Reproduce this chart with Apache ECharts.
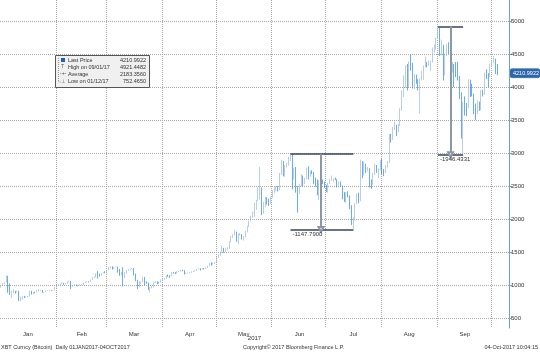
<!DOCTYPE html>
<html>
<head>
<meta charset="utf-8">
<script src="https://cdn.jsdelivr.net/npm/echarts@6/dist/echarts.min.js"></script>
<style>
html, body { margin: 0; padding: 0; background: #fff; }
#chart { width: 540px; height: 352px; }
</style>
</head>
<body>
<div id="chart"></div>
<script>
// daily candles, each row is [open, close, low, high]
var jan = [
  [963.7, 998.3, 958.7, 1003.1], [998.3, 1021.8, 990.0, 1031.4], [1021.8, 1043.8, 1015.2, 1044.1],
  [1043.8, 1135.0, 1040.0, 1148.0], [1135.0, 1005.0, 885.0, 1140.0], [1005.0, 895.0, 850.0, 1028.0],
  [895.0, 906.0, 806.0, 912.0], [906.0, 910.0, 880.0, 938.0], [910.0, 900.0, 870.0, 913.0],
  [900.0, 905.0, 890.0, 910.0], [905.0, 785.0, 760.0, 915.0], [785.0, 812.0, 752.465, 827.0],
  [812.0, 826.0, 778.0, 835.0], [826.0, 818.0, 805.0, 837.0], [818.0, 822.0, 812.0, 826.0],
  [822.0, 831.0, 818.0, 835.0], [831.0, 907.0, 828.0, 910.0], [907.0, 869.0, 858.0, 913.0],
  [869.0, 894.0, 865.0, 900.0], [894.0, 893.0, 880.0, 899.0], [893.0, 921.0, 890.0, 926.0],
  [921.0, 923.0, 900.0, 935.0], [923.0, 925.0, 915.0, 929.0], [925.0, 892.0, 885.0, 927.0],
  [892.0, 894.0, 884.0, 898.0], [894.0, 916.0, 892.0, 918.0], [916.0, 918.0, 911.0, 923.0],
  [918.0, 917.0, 913.0, 921.0], [917.0, 914.0, 909.0, 919.0], [914.0, 921.0, 912.0, 924.0],
  [921.0, 968.0, 919.0, 972.0]
];
var feb = [
  [968, 989, 963, 990], [989, 1011, 985, 1012], [1011, 1021, 1005, 1025], [1021, 1033, 1015, 1040],
  [1033, 1015, 1005, 1035], [1015, 1025, 1010, 1030], [1025, 1051, 1022, 1053], [1051, 1061, 1040, 1068],
  [1061, 979, 940, 1065], [979, 996, 975, 1003], [996, 1009, 992, 1012], [1009, 998, 994, 1010],
  [998, 999, 980, 1005], [999, 1008, 995, 1014], [1008, 1007, 1002, 1011], [1007, 1030, 1005, 1035],
  [1030, 1049, 1028, 1053], [1049, 1055, 1045, 1060], [1055, 1052, 1040, 1058], [1052, 1081, 1048, 1085],
  [1081, 1117, 1078, 1120], [1117, 1123, 1105, 1128], [1123, 1174, 1120, 1178], [1174, 1172, 1100, 1212],
  [1172, 1150, 1130, 1175], [1150, 1182, 1140, 1185], [1182, 1194, 1176, 1197], [1194, 1189, 1180, 1210]
];
var mar = [
  [1189, 1222, 1185, 1225], [1222, 1259, 1220, 1275], [1259, 1283, 1250, 1290], [1283, 1265, 1235, 1285],
  [1265, 1272, 1245, 1275], [1272, 1276, 1265, 1280], [1276, 1233, 1190, 1280], [1233, 1150, 1140, 1245],
  [1150, 1189, 1145, 1200], [1189, 1116, 980, 1270], [1116, 1176, 1110, 1195], [1176, 1226, 1170, 1230],
  [1226, 1239, 1215, 1245], [1239, 1244, 1225, 1250], [1244, 1254, 1240, 1258], [1254, 1172, 1150, 1258],
  [1172, 1071, 1060, 1175], [1071, 970, 940, 1080], [970, 1022, 965, 1060], [1022, 1047, 1015, 1055],
  [1047, 1120, 1045, 1125], [1120, 1049, 1000, 1122], [1049, 1038, 1020, 1055], [1038, 937, 925, 1040],
  [937, 966, 890, 975], [966, 966, 950, 990], [966, 1045, 965, 1050], [1045, 1045, 1030, 1060],
  [1045, 1041, 1015, 1055], [1041, 1037, 1025, 1050], [1037, 1079, 1035, 1085]
];
var apr = [
  [1079, 1086, 1070, 1095], [1086, 1097, 1080, 1108], [1097, 1144, 1095, 1150], [1144, 1142, 1125, 1160],
  [1142, 1132, 1110, 1150], [1132, 1194, 1130, 1197], [1194, 1190, 1175, 1200], [1190, 1182, 1170, 1198],
  [1182, 1203, 1175, 1210], [1203, 1208, 1196, 1212], [1208, 1226, 1205, 1229], [1226, 1218, 1210, 1232],
  [1218, 1176, 1160, 1225], [1176, 1181, 1168, 1190], [1181, 1185, 1175, 1190], [1185, 1187, 1180, 1195],
  [1187, 1206, 1183, 1210], [1206, 1210, 1200, 1215], [1210, 1219, 1205, 1225], [1219, 1240, 1215, 1245],
  [1240, 1250, 1235, 1255], [1250, 1243, 1220, 1255], [1243, 1252, 1240, 1260], [1252, 1248, 1238, 1258],
  [1248, 1263, 1245, 1267], [1263, 1287, 1260, 1295], [1287, 1334, 1285, 1338], [1334, 1318, 1295, 1345],
  [1318, 1328, 1310, 1340], [1328, 1347, 1320, 1352]
];
var may = [
  [1347, 1420, 1345, 1425], [1420, 1453, 1410, 1470], [1453, 1491, 1440, 1495], [1491, 1537, 1490, 1600],
  [1537, 1508, 1490, 1565], [1508, 1545, 1505, 1560], [1545, 1555, 1530, 1575], [1555, 1660, 1550, 1665],
  [1660, 1725, 1650, 1745], [1725, 1760, 1710, 1770], [1760, 1808, 1750, 1840], [1808, 1680, 1655, 1810],
  [1680, 1771, 1620, 1780], [1771, 1771, 1750, 1790], [1771, 1700, 1690, 1775], [1700, 1730, 1675, 1745],
  [1730, 1807, 1725, 1820], [1807, 1889, 1800, 1900], [1889, 1969, 1880, 1975], [1969, 2042, 1965, 2050],
  [2042, 2047, 2020, 2115], [2047, 2147, 2030, 2250], [2147, 2279, 2140, 2290], [2279, 2443, 2275, 2480],
  [2443, 2460, 2300, 2790], [2460, 2150, 2060, 2480], [2150, 2200, 2080, 2260], [2200, 2300, 2180, 2340],
  [2300, 2270, 2220, 2330], [2270, 2240, 2200, 2310], [2240, 2330, 2230, 2340]
];
var jun = [
  [2330, 2410, 2320, 2440], [2410, 2450, 2395, 2480], [2450, 2470, 2430, 2500], [2470, 2440, 2420, 2500],
  [2440, 2680, 2435, 2700], [2680, 2870, 2670, 2900], [2870, 2700, 2650, 2880], [2700, 2800, 2640, 2820],
  [2800, 2820, 2780, 2850], [2820, 2920, 2810, 2945], [2920, 2975, 2880, 2990], [2975, 2650, 2450, 2985],
  [2650, 2710, 2600, 2780], [2710, 2480, 2400, 2790], [2480, 2440, 2100, 2500], [2440, 2510, 2380, 2535],
  [2510, 2650, 2490, 2680], [2650, 2540, 2500, 2660], [2540, 2610, 2530, 2625], [2610, 2760, 2600, 2780],
  [2760, 2690, 2600, 2800], [2690, 2715, 2640, 2730], [2715, 2710, 2680, 2740], [2710, 2580, 2530, 2715],
  [2580, 2560, 2490, 2630], [2560, 2425, 2360, 2600], [2425, 2580, 2290, 2590], [2580, 2590, 2510, 2610],
  [2590, 2550, 2530, 2600], [2550, 2490, 2470, 2570]
];
var jul = [
  [2490, 2430, 2410, 2520], [2430, 2540, 2400, 2550], [2540, 2590, 2530, 2610], [2590, 2600, 2580, 2660],
  [2600, 2610, 2560, 2620], [2610, 2600, 2590, 2630], [2600, 2500, 2480, 2605], [2500, 2560, 2480, 2570],
  [2560, 2500, 2490, 2570], [2500, 2330, 2300, 2510], [2330, 2310, 2260, 2410], [2310, 2390, 2250, 2410],
  [2390, 2350, 2330, 2420], [2350, 2200, 2150, 2360], [2200, 1930, 1910, 2210], [1930, 1990, 1842.21, 2030],
  [1990, 2235, 1975, 2240], [2235, 2320, 2230, 2390], [2320, 2290, 2240, 2400], [2290, 2870, 2270, 2900],
  [2870, 2670, 2620, 2880], [2670, 2830, 2660, 2870], [2830, 2760, 2700, 2840], [2760, 2760, 2720, 2790],
  [2760, 2570, 2480, 2770], [2570, 2530, 2460, 2600], [2530, 2680, 2520, 2700], [2680, 2810, 2670, 2840],
  [2810, 2730, 2700, 2820], [2730, 2760, 2620, 2770], [2760, 2880, 2740, 2890]
];
var aug = [
  [2880, 2730, 2680, 2920], [2730, 2710, 2650, 2760], [2710, 2810, 2700, 2820], [2810, 2860, 2780, 2880],
  [2860, 3260, 2850, 3290], [3260, 3220, 3160, 3290], [3220, 3380, 3200, 3400], [3380, 3420, 3350, 3480],
  [3420, 3340, 3260, 3430], [3340, 3420, 3320, 3440], [3420, 3650, 3410, 3680], [3650, 3860, 3640, 3950],
  [3860, 4060, 3850, 4180], [4060, 4320, 3990, 4330], [4320, 4160, 3950, 4350], [4160, 4380, 4000, 4390],
  [4380, 4290, 4250, 4490], [4290, 4100, 3980, 4370], [4100, 4190, 3970, 4200], [4190, 4080, 4050, 4190],
  [4080, 4000, 3950, 4120], [4000, 4110, 3600, 4130], [4110, 4140, 4100, 4250], [4140, 4320, 4110, 4330],
  [4320, 4370, 4300, 4460], [4370, 4350, 4300, 4380], [4350, 4350, 4320, 4400], [4350, 4390, 4240, 4400],
  [4390, 4580, 4370, 4600], [4580, 4580, 4520, 4640], [4580, 4740, 4570, 4750]
];
var sep = [
  [4740, 4890, 4730, 4921.4482], [4890, 4580, 4470, 4900], [4580, 4640, 4480, 4720], [4640, 4350, 4100, 4640],
  [4350, 4480, 4180, 4510], [4480, 4620, 4470, 4650], [4620, 4600, 4500, 4680], [4600, 4310, 4170, 4640],
  [4310, 4350, 4220, 4380], [4350, 4290, 4000, 4350], [4290, 4230, 4150, 4380], [4230, 4160, 4100, 4380],
  [4160, 3880, 3820, 4170], [3880, 3240, 3220, 3920], [3240, 3700, 2975.0151, 3780], [3700, 3690, 3570, 3860],
  [3690, 3680, 3560, 3760], [3680, 4090, 3680, 4120], [4090, 3910, 3850, 4110], [3910, 3890, 3860, 4050],
  [3890, 3610, 3590, 3900], [3610, 3600, 3500, 3750], [3600, 3780, 3590, 3800], [3780, 3660, 3640, 3780],
  [3660, 3920, 3650, 3960], [3920, 3890, 3860, 3960], [3890, 4200, 3880, 4220], [4200, 4180, 4120, 4270],
  [4180, 4160, 4000, 4210], [4160, 4340, 4150, 4360]
];
var oct = [
  [4340, 4400, 4300, 4410], [4400, 4410, 4370, 4470], [4410, 4320, 4200, 4430], [4320, 4210.9922, 4180, 4350]
];

var monthLabels = ['Jan', 'Feb', 'Mar', 'Apr', 'May', 'Jun', 'Jul', 'Aug', 'Sep'];

// summary box values as printed on the chart
var lastPrice = '4210.9922';
var highLabel = 'High on 09/01/17', highValue = '4921.4482';
var avgValue = '2183.3560';
var lowLabel = 'Low on 01/12/17', lowValue = '752.4650';

// high-to-low measurements drawn on the chart
var drops = [
  { from: '2017-06-11', to: '2017-07-16', mid: '2017-06-28' },
  { from: '2017-09-01', to: '2017-09-15', mid: '2017-09-08' }
];

var candles = jan.concat(feb, mar, apr, may, jun, jul, aug, sep, oct);
var padDays = 6;
var dates = [];
for (var i = 0; i < candles.length + padDays; i++) {
  dates.push(new Date(Date.UTC(2017, 0, 1 + i)).toISOString().slice(0, 10));
}
var seriesData = candles.slice();
for (var j = 0; j < padDays; j++) seriesData.push(['-', '-', '-', '-']);

var font = '"Liberation Sans", Arial, sans-serif';

var marks = [];
drops.forEach(function (d) {
  var hi = candles[dates.indexOf(d.from)][3];
  var lo = candles[dates.indexOf(d.to)][2];
  var dark = { color: '#34465a', width: 1.5, type: 'solid' };
  marks.push([{ coord: [d.from, hi], lineStyle: dark }, { coord: [d.to, hi] }]);
  marks.push([{
    coord: [d.from, lo], lineStyle: dark,
    label: { show: true, position: 'insideStartBottom', distance: 2, formatter: (lo - hi).toFixed(4),
      fontSize: 6, color: '#333', fontFamily: font }
  }, { coord: [d.to, lo] }]);
  marks.push([{ coord: [d.mid, hi], lineStyle: { color: '#8c98a6', width: 2, type: 'solid' } },
    { coord: [d.mid, lo], symbol: 'emptyTriangle', symbolSize: 5 }]);
});
marks.push({
  yAxis: +lastPrice, lineStyle: { color: 'rgba(0,0,0,0)', width: 0 },
  label: { show: true, position: 'end', distance: 1, formatter: lastPrice, color: '#fff',
    backgroundColor: '#2e66ab', borderColor: '#7ea6d6', borderWidth: 0.5, borderRadius: 2,
    padding: [2, 1, 1, 3], fontSize: 5.5, fontFamily: font }
});

var chart = echarts.init(document.getElementById('chart'));
var txt = function (s, x, y, extra) {
  var st = { text: s, x: x, y: y, font: '5.5px ' + font, fill: '#333', textVerticalAlign: 'middle' };
  for (var k in extra) st[k] = extra[k];
  return { type: 'text', style: st, z: 100 };
};

chart.setOption({
  animation: false,
  grid: { left: -3, right: 31, top: 0, bottom: 24 },
  xAxis: {
    type: 'category',
    data: dates,
    axisLine: { show: false },
    axisTick: { show: false },
    axisLabel: {
      interval: function (idx, v) {
        var m = +v.slice(5, 7), d = +v.slice(8, 10);
        return m <= 9 && d === (m === 2 ? 15 : 16);
      },
      formatter: function (v) { return monthLabels[+v.slice(5, 7) - 1]; },
      fontSize: 6, color: '#333', margin: 3, fontFamily: font
    },
    splitLine: {
      show: true,
      interval: function (idx, v) { return idx > 0 && v.slice(8, 10) === '01'; },
      lineStyle: { type: 'dotted', color: '#a8a8a8' }
    },
    name: '2017', nameLocation: 'middle', nameGap: 7, nameMoveOverlap: false,
    nameTextStyle: { fontSize: 6, color: '#333', fontFamily: font }
  },
  yAxis: {
    type: 'value',
    position: 'right',
    min: 350, max: 5320, splitNumber: 10,
    axisLine: { show: true, lineStyle: { color: '#6d9fd6' } },
    axisTick: { show: true, length: 3, lineStyle: { color: '#6d9fd6' } },
    axisLabel: { fontSize: 6, color: '#333', margin: 2, fontFamily: font,
      showMinLabel: false, showMaxLabel: false, formatter: function (v) { return String(v); } },
    splitLine: { show: true, showMinLine: false, showMaxLine: false,
      lineStyle: { type: 'dotted', color: '#a8a8a8' } }
  },
  series: [{
    type: 'candlestick',
    data: seriesData,
    clip: false,
    barWidth: 1.2,
    itemStyle: { color: '#9cbadd', color0: '#2a88ee', borderColor: '#9cbadd', borderColor0: '#2a88ee', borderWidth: 0.7 },
    markLine: { silent: true, symbol: 'none', animation: false, label: { show: false }, data: marks }
  }],
  graphic: [
    { type: 'rect', shape: { x: 55.5, y: 55.5, width: 94, height: 32 },
      style: { fill: '#f0f0f0', stroke: '#555', lineWidth: 1 }, z: 99 },
    { type: 'polyline', shape: { points: [[58.5, 58], [58.5, 82], [61, 82]] },
      style: { stroke: '#999', lineDash: [1, 1], lineWidth: 1, fill: null }, z: 100 },
    { type: 'rect', shape: { x: 61, y: 58, width: 4, height: 4 }, style: { fill: '#1f5fbf' }, z: 100 },
    txt('T', 61, 67, { font: '5px ' + font, fill: '#555' }),
    txt('-+-', 60, 74, { font: '5px ' + font, fill: '#555' }),
    txt('\u22a5', 61, 81.5, { font: '5px ' + font, fill: '#555' }),
    txt('Last Price', 68, 60),
    txt(highLabel, 68, 67),
    txt('Average', 68, 74),
    txt(lowLabel, 68, 81.5),
    txt(lastPrice, 146, 60, { textAlign: 'right' }),
    txt(highValue, 146, 67, { textAlign: 'right' }),
    txt(avgValue, 146, 74, { textAlign: 'right' }),
    txt(lowValue, 146, 81.5, { textAlign: 'right' }),
    txt('XBT Curncy (Bitcoin)  Daily 01JAN2017-04OCT2017', 1, 347),
    txt('Copyright\u00a9 2017 Bloomberg Finance L.P.', 243, 347),
    txt('04-Oct-2017 10:04:15', 538, 347, { textAlign: 'right' })
  ]
});
</script>
</body>
</html>
